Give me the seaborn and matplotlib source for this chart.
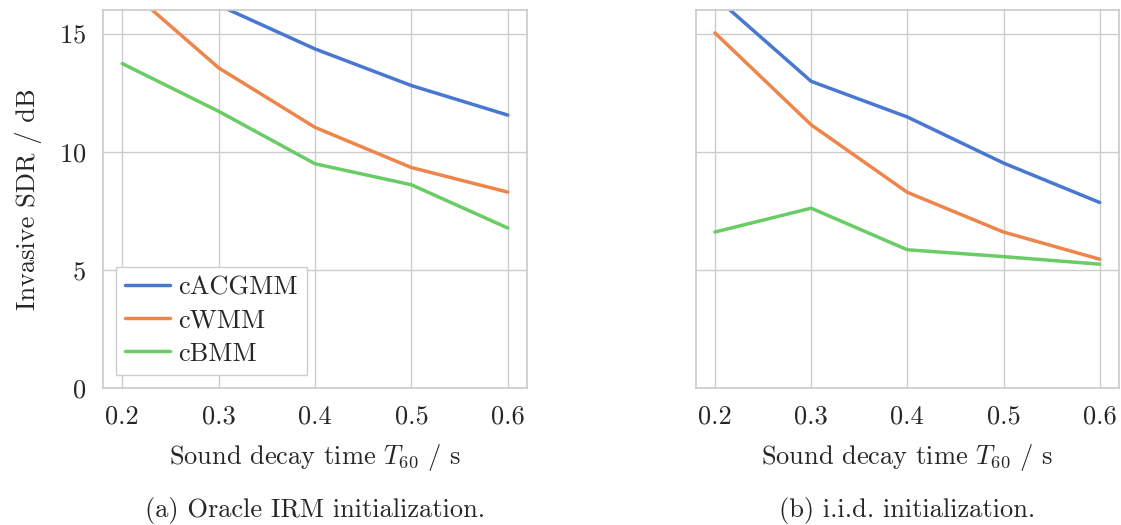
import matplotlib
matplotlib.use("Agg")
import matplotlib.pyplot as plt
import numpy as np
import pandas as pd
import seaborn as sns

# Reverberation times (s)
t60 = [0.2, 0.3, 0.4, 0.5, 0.6]
models = ["cACGMM", "cWMM", "cBMM"]

# Invasive SDR (dB), oracle IRM initialization
oracle_cacgmm = [19.0, 16.2, 14.35, 12.8, 11.55]
oracle_cwmm = [17.1, 13.55, 11.03, 9.33, 8.29]
oracle_cbmm = [13.73, 11.71, 9.49, 8.6, 6.77]

# Invasive SDR (dB), i.i.d. initialization
iid_cacgmm = [16.56, 12.98, 11.47, 9.52, 7.85]
iid_cwmm = [15.03, 11.14, 8.28, 6.6, 5.45]
iid_cbmm = [6.6, 7.61, 5.85, 5.56, 5.24]

captions = ["(a) Oracle IRM initialization.", "(b) i.i.d. initialization."]


def long_frame(series):
    rows = []
    for name, vals in zip(models, series):
        for t, v in zip(t60, vals):
            rows.append({"T60": t, "SDR": v, "Model": name})
    return pd.DataFrame(rows)


df_oracle = long_frame([oracle_cacgmm, oracle_cwmm, oracle_cbmm])
df_iid = long_frame([iid_cacgmm, iid_cwmm, iid_cbmm])

FS = 19

sns.set_theme(style="whitegrid", palette="muted")
plt.rcParams.update({
    "font.family": "serif",
    "font.serif": ["cmr10", "DejaVu Serif"],
    "mathtext.fontset": "cm",
    "axes.unicode_minus": False,
    "axes.formatter.use_mathtext": True,
    "font.size": FS,
})

fig = plt.figure(figsize=(11.21, 5.25), dpi=100)
ax_a = fig.add_axes([0.0919, 0.261, 0.3783, 0.720])
ax_b = fig.add_axes([0.6206, 0.261, 0.3776, 0.720], sharey=ax_a)

colors = sns.color_palette("muted", 3)
for ax, df, cap in zip([ax_a, ax_b], [df_oracle, df_iid], captions):
    sns.lineplot(data=df, x="T60", y="SDR", hue="Model", hue_order=models,
                 palette=colors, linewidth=2.5, ax=ax, legend=(ax is ax_a))
    ax.set_xlim(0.18, 0.62)
    ax.set_ylim(0, 16)
    ax.set_xticks(t60)
    ax.set_xticklabels([f"{t:.1f}" for t in t60], fontsize=FS)
    ax.set_yticks([0, 5, 10, 15])
    ax.set_xlabel(r"Sound decay time $T_{60}$ / s", fontsize=FS, labelpad=10)
    ax.tick_params(axis="both", length=0, pad=12, labelsize=FS)
    for sp in ax.spines.values():
        sp.set_color("#cccccc")
    pos = ax.get_position()
    fig.text((pos.x0 + pos.x1) / 2, 0.028, cap, ha="center", va="center", fontsize=FS)

ax_a.set_ylabel("Invasive SDR / dB", fontsize=FS, labelpad=12)
ax_b.set_ylabel("")
plt.setp(ax_b.get_yticklabels(), visible=False)

leg = ax_a.legend(loc="lower left", bbox_to_anchor=(0.0, 0.0), fontsize=FS,
                  handlelength=1.7, frameon=True, fancybox=False,
                  borderaxespad=0.5, borderpad=0.35, labelspacing=0.35,
                  handletextpad=0.3)
leg.get_frame().set_edgecolor("#cccccc")
leg.get_frame().set_linewidth(1.0)
leg.get_frame().set_alpha(1.0)

fig.savefig("out.png", dpi=100)
